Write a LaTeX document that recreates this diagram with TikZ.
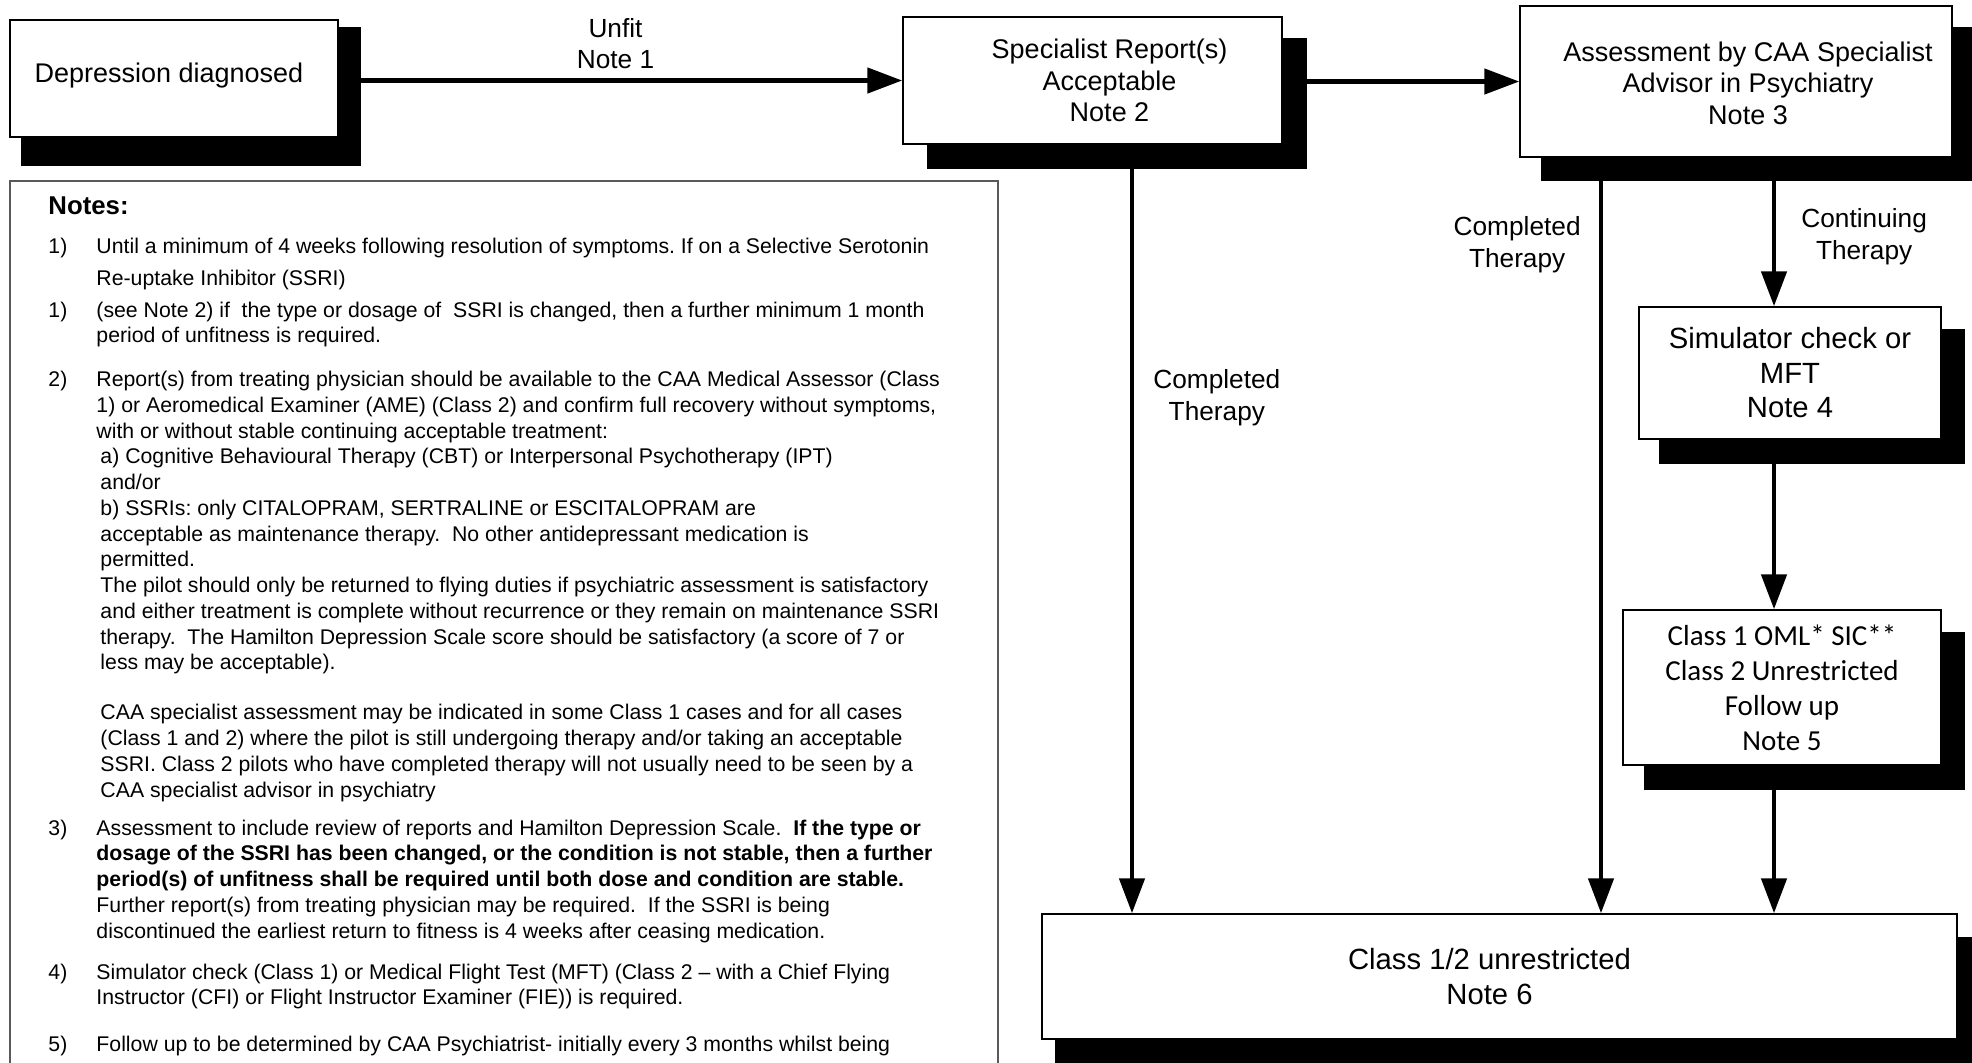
\documentclass[tikz,border=0pt]{standalone}
\usepackage{fontspec}
\setmainfont{Liberation Sans}
\newfontfamily\calfont{Carlito}
\usetikzlibrary{arrows.meta,backgrounds}
\newcommand{\subind}{\hspace*{1.6pt}}
\frenchspacing

\begin{document}
\begin{tikzpicture}[x=0.4pt,y=-0.4pt]

    \tikzstyle{box}=[draw,fill=white,line width=0.6pt,inner sep=0pt]
    \tikzstyle{btext}=[align=center,inner sep=0pt,font=\fontsize{10.8}{12.6}\selectfont]
    \tikzstyle{btextbig}=[align=center,inner sep=0pt,font=\fontsize{11.7}{13.8}\selectfont]
    \tikzstyle{btextcal}=[align=center,inner sep=0pt,font=\calfont\fontsize{11.6}{14}\selectfont]
    \tikzstyle{lbl}=[align=center,inner sep=0pt,font=\fontsize{10.5}{12.6}\selectfont]
    \tikzstyle{flow}=[line width=1.9pt,-{Triangle[length=14pt,width=10pt]}]

    \useasboundingbox (0,0) rectangle (1972,1062);

\node (diag) [box,minimum width=131.2pt,minimum height=46.8pt,label={[btext,name=diagText,xshift=-2pt,yshift=1.2pt]center:Depression diagnosed}] at (174,78.5) {};
\node (spec) [box,minimum width=151.6pt,minimum height=50.8pt,label={[btext,name=specText,xshift=6.8pt]center:{Specialist Report(s)\\Acceptable\\Note 2}}] at (1092.5,80.5) {};
\node (assess) [box,minimum width=172.8pt,minimum height=60.4pt,label={[btext,name=assessText,xshift=4.8pt,yshift=-0.6pt]center:{Assessment by CAA Specialist\\Advisor in Psychiatry\\Note 3}}] at (1736,81.5) {};
\node (sim) [box,minimum width=120.8pt,minimum height=52.8pt,label={[btextbig,name=simText]center:{Simulator check or\\MFT\\Note 4}}] at (1790,373) {};
\node (oml) [box,minimum width=127.2pt,minimum height=62pt,label={[btextcal,name=omlText]center:{Class 1 OML* SIC**\\Class 2 Unrestricted\\Follow up\\Note 5}}] at (1782,687.5) {};
\node (final) [box,minimum width=366pt,minimum height=50pt,label={[btextbig,name=finalText,xshift=-4pt]center:{Class 1/2 unrestricted\\Note 6}}] at (1499.5,976.5) {};

\begin{scope}[on background layer]
\foreach \n/\l/\t/\r/\b in {diag/12/8/22/28,spec/25/22/24/24,assess/22/22/40/23,sim/21/23/23/24,oml/22/23/23/24,final/14/24/30/30}
    \fill ([shift={(\l,\t)}]\n.north west) rectangle ([shift={(\r,\b)}]\n.south east);
\end{scope}

\coordinate (col1) at (1132,0);
\coordinate (col2) at (1601,0);
\coordinate (col3) at (1774,0);

\draw[flow] (diag.east |- spec.west) -- (spec.west) node (unfitLbl) [lbl,midway,above=3.6pt,xshift=-2pt] {Unfit\\Note 1};
\draw[flow] (spec.east |- assess.west) -- (assess.west);

\draw[flow] (spec.south -| col1) -- (final.north -| col1) node (doneLbl1) [lbl,pos=0.329,right=7.6pt] {Completed\\Therapy};
\draw[flow] (assess.south -| col2) -- (final.north -| col2) node (doneLbl2) [lbl,pos=0.115,left=7.2pt] {Completed\\Therapy};
\draw[flow] (assess.south -| col3) -- (sim.north -| col3) node (goingLbl) [lbl,pos=0.533,right=10pt] {Continuing\\Therapy};
\draw[flow] (sim.south -| col3) -- (oml.north -| col3);
\draw[flow] (oml.south -| col3) -- (final.north -| col3);

\node (notes) [draw=black!65,line width=0.5pt,minimum width=395.2pt,minimum height=367.6pt,inner sep=0pt] at (504,640.5) {};
\node (notesHead) [anchor=base west,inner sep=0pt,font=\bfseries\fontsize{10.3}{12.6}\selectfont] at (48,214) {Notes:};
\node (notesList) [anchor=base west,inner sep=0pt,font=\fontsize{8.5}{10.3}\selectfont] at (48,253) {\begin{tabular}[t]{@{}p{19.2pt}@{}l@{}}
1) & Until a minimum of 4 weeks following resolution of symptoms. If on a Selective Serotonin\\[2.5pt]
 & Re-uptake Inhibitor (SSRI)\\[2.5pt]
1) & (see Note 2) if~ the type or dosage of~ SSRI is changed, then a further minimum 1 month\\
 & period of unfitness is required.\\[7.2pt]
2) & Report(s) from treating physician should be available to the CAA Medical Assessor (Class\\
 & 1) or Aeromedical Examiner (AME) (Class 2) and confirm full recovery without symptoms,\\
 & with or without stable continuing acceptable treatment:\\
 & \subind a) Cognitive Behavioural Therapy (CBT) or Interpersonal Psychotherapy (IPT)\\
 & \subind and/or\\
 & \subind b) SSRIs: only CITALOPRAM, SERTRALINE or ESCITALOPRAM are\\
 & \subind acceptable as maintenance therapy.~ No other antidepressant medication is\\
 & \subind permitted.\\
 & \subind The pilot should only be returned to flying duties if psychiatric assessment is satisfactory\\
 & \subind and either treatment is complete without recurrence or they remain on maintenance SSRI\\
 & \subind therapy.~ The Hamilton Depression Scale score should be satisfactory (a score of 7 or\\
 & \subind less may be acceptable).\\[9.7pt]
 & \subind CAA specialist assessment may be indicated in some Class 1 cases and for all cases\\
 & \subind (Class 1 and 2) where the pilot is still undergoing therapy and/or taking an acceptable\\
 & \subind SSRI. Class 2 pilots who have completed therapy will not usually need to be seen by a\\
 & \subind CAA specialist advisor in psychiatry\\[4.9pt]
3) & Assessment to include review of reports and Hamilton Depression Scale.~ \textbf{If the type or}\\
 & \textbf{dosage of the SSRI has been changed, or the condition is not stable, then a further}\\
 & \textbf{period(s) of unfitness shall be required until both dose and condition are stable.}\\
 & Further report(s) from treating physician may be required.~ If the SSRI is being\\
 & discontinued the earliest return to fitness is 4 weeks after ceasing medication.\\[6.1pt]
4) & Simulator check (Class 1) or Medical Flight Test (MFT) (Class 2 – with a Chief Flying\\
 & Instructor (CFI) or Flight Instructor Examiner (FIE)) is required.\\[8.5pt]
5) & Follow up to be determined by CAA Psychiatrist- initially every 3 months whilst being
\end{tabular}};

\end{tikzpicture}
\end{document}
